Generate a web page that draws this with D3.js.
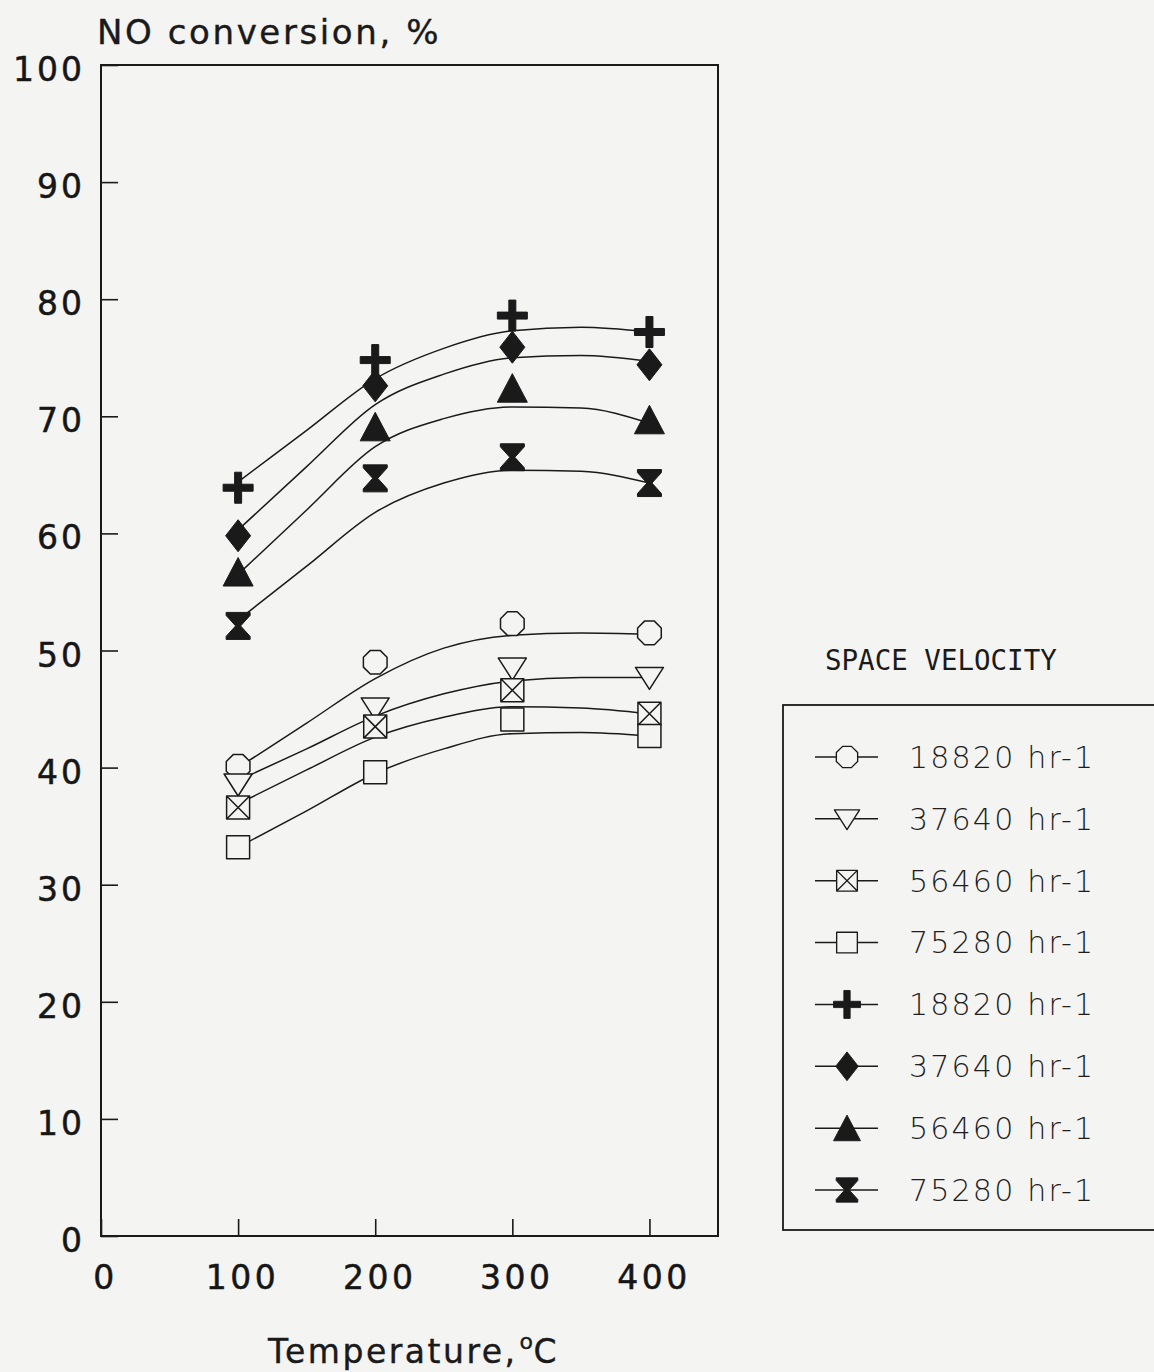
<!DOCTYPE html>
<html>
<head>
<meta charset="utf-8">
<script src="https://cdn.jsdelivr.net/npm/d3@7"></script>
<style>
  html, body { margin: 0; padding: 0; background: #f4f4f3; }
  svg { display: block; }
  .tick text { font-family: "DejaVu Sans", sans-serif; fill: #161616; stroke: #161616; stroke-width: 0.5px; }
</style>
</head>
<body>
<script>
// Measured temperatures (°C)
const temps = [100, 200, 300, 400];
// Temperatures at which the smoothed fit curves are sampled
const fitTemps = [100, 150, 200, 250, 300, 350, 400];

// Space velocity labels (hr-1)
const velocities = ["18820", "37640", "56460", "75280"];

// NO conversion (%) — open symbols
const openSV18820 = [40.1, 49.0, 52.3, 51.5];
const openSV37640 = [38.6, 45.1, 48.5, 47.7];
const openSV56460 = [36.6, 43.5, 46.6, 44.6];
const openSV75280 = [33.2, 39.6, 44.1, 42.7];
// NO conversion (%) — filled symbols
const filledSV18820 = [63.9, 74.8, 78.6, 77.2];
const filledSV37640 = [59.8, 72.6, 75.9, 74.4];
const filledSV56460 = [56.7, 69.1, 72.4, 69.7];
const filledSV75280 = [52.1, 64.7, 66.5, 64.3];

// Smoothed fit curves through each series
const fitOpen18820 = [40.0, 43.8, 47.6, 50.2, 51.3, 51.5, 51.4];
const fitOpen37640 = [38.9, 41.6, 44.4, 46.3, 47.4, 47.7, 47.7];
const fitOpen56460 = [36.9, 39.8, 42.6, 44.3, 45.2, 45.1, 44.6];
const fitOpen75280 = [33.2, 36.3, 39.5, 41.6, 42.9, 43.0, 42.7];
const fitFilled18820 = [64.4, 68.8, 73.2, 75.8, 77.3, 77.6, 77.2];
const fitFilled37640 = [60.3, 65.7, 71.0, 73.6, 75.0, 75.2, 74.7];
const fitFilled56460 = [56.5, 62.0, 67.4, 69.8, 70.8, 70.7, 69.4];
const fitFilled75280 = [52.6, 57.2, 61.8, 64.3, 65.4, 65.3, 64.3];

const xTicks = [0, 100, 200, 300, 400];
const yTicks = [0, 10, 20, 30, 40, 50, 60, 70, 80, 90, 100];

const ink = "#1a1a1a";
const paper = "#f4f4f3";

// Marker shapes, centred on (0,0)
const markers = {
  octagon: () => {
    const r = 12.8;
    const pts = d3.range(8).map(k => {
      const a = Math.PI / 8 + k * Math.PI / 4;
      return [r * Math.cos(a), r * Math.sin(a)];
    });
    return "M" + pts.map(p => p.join(",")).join("L") + "Z";
  },
  triDown: () => "M-14,-10L14,-10L0,12Z",
  boxX: () => "M-11.5,-11.5H11.5V11.5H-11.5ZM-11.5,-11.5L11.5,11.5M11.5,-11.5L-11.5,11.5",
  square: () => "M-11.5,-11.5H11.5V11.5H-11.5Z",
  cross: () => "M-3.5,-15.5H3.5V-3.5H15V3.5H3.5V15.5H-3.5V3.5H-15V-3.5H-3.5Z",
  diamond: () => "M0,-16L12.5,0L0,16L-12.5,0Z",
  triUp: () => "M0,-14.5L15,14L-15,14Z",
  hourglass: () => "M-12,-13.5H12V-10.5L2.5,0L12,10.5V13.5H-12V10.5L-2.5,0L-12,-10.5Z"
};

const series = [
  { sv: velocities[0], values: openSV18820, fit: fitOpen18820, shape: "octagon", filled: false },
  { sv: velocities[1], values: openSV37640, fit: fitOpen37640, shape: "triDown", filled: false },
  { sv: velocities[2], values: openSV56460, fit: fitOpen56460, shape: "boxX", filled: false },
  { sv: velocities[3], values: openSV75280, fit: fitOpen75280, shape: "square", filled: false },
  { sv: velocities[0], values: filledSV18820, fit: fitFilled18820, shape: "cross", filled: true },
  { sv: velocities[1], values: filledSV37640, fit: fitFilled37640, shape: "diamond", filled: true },
  { sv: velocities[2], values: filledSV56460, fit: fitFilled56460, shape: "triUp", filled: true },
  { sv: velocities[3], values: filledSV75280, fit: fitFilled75280, shape: "hourglass", filled: true }
];

const W = 1154, H = 1372;
const plot = { left: 101, right: 718, top: 65, bottom: 1236 };

const svg = d3.select("body").append("svg")
  .attr("width", W).attr("height", H);

svg.append("rect").attr("width", W).attr("height", H).attr("fill", paper);

const x = d3.scaleLinear().domain([0, 450]).range([plot.left, plot.right]);
const y = d3.scaleLinear().domain([0, 100]).range([plot.bottom, plot.top]);

// Y axis: inward ticks
const yAxis = svg.append("g")
  .attr("transform", `translate(${plot.left},0)`)
  .call(d3.axisLeft(y).tickValues(yTicks).tickSize(-17).tickPadding(16).tickFormat(d3.format("d")));
yAxis.select(".domain").remove();
yAxis.selectAll(".tick line").attr("stroke", ink).attr("stroke-width", 1.6);
yAxis.selectAll(".tick text")
  .attr("font-size", 33).attr("letter-spacing", 3).attr("dy", "0.47em");

// X axis: inward ticks
const xAxis = svg.append("g")
  .attr("transform", `translate(0,${plot.bottom})`)
  .call(d3.axisBottom(x).tickValues(xTicks).tickSize(-17).tickFormat(d3.format("d")));
xAxis.select(".domain").remove();
xAxis.selectAll(".tick line").attr("stroke", ink).attr("stroke-width", 1.6);
xAxis.selectAll(".tick text")
  .attr("font-size", 33).attr("letter-spacing", 3.5).attr("y", 53).attr("dy", 0)
  .attr("dx", 4);

// Plot frame
svg.append("rect")
  .attr("x", plot.left).attr("y", plot.top)
  .attr("width", plot.right - plot.left).attr("height", plot.bottom - plot.top)
  .attr("fill", "none").attr("stroke", ink).attr("stroke-width", 2);

// Axis titles
svg.append("text")
  .attr("x", 97).attr("y", 44)
  .attr("font-family", "DejaVu Sans, sans-serif").attr("font-size", 34)
  .attr("letter-spacing", 2.6).attr("fill", ink)
  .attr("stroke", ink).attr("stroke-width", 0.4)
  .text("NO conversion, %");

const xt = svg.append("text")
  .attr("x", 268).attr("y", 1363)
  .attr("font-family", "DejaVu Sans, sans-serif").attr("font-size", 33)
  .attr("letter-spacing", 2.5).attr("fill", ink)
  .attr("stroke", ink).attr("stroke-width", 0.4);
xt.append("tspan").text("Temperature,");
xt.append("tspan").attr("font-size", 22).attr("dy", -14).attr("dx", 2).text("o");
xt.append("tspan").attr("dy", 14).attr("dx", -2).text("C");

// Fit curves
const line = d3.line()
  .x((d, i) => x(fitTemps[i]))
  .y(d => y(d))
  .curve(d3.curveMonotoneX);

svg.append("g").selectAll("path")
  .data(series)
  .join("path")
  .attr("d", s => line(s.fit))
  .attr("fill", "none")
  .attr("stroke", ink)
  .attr("stroke-width", 1.5);

// Data markers
const drawMarker = (sel, s) => sel
  .attr("d", markers[s.shape]())
  .attr("fill", s.filled ? ink : paper)
  .attr("stroke", ink)
  .attr("stroke-width", s.filled ? 1 : 1.5)
  .attr("stroke-linejoin", "round");

series.forEach(s => {
  svg.append("g").selectAll("path")
    .data(s.values)
    .join("path")
    .attr("transform", (v, i) => `translate(${x(temps[i])},${y(v)})`)
    .each(function () { drawMarker(d3.select(this), s); });
});

// Legend
svg.append("text")
  .attr("x", 825).attr("y", 670)
  .attr("font-family", "DejaVu Sans Mono, monospace").attr("font-size", 27.5)
  .attr("fill", ink)
  .text("SPACE VELOCITY");

svg.append("rect")
  .attr("x", 783).attr("y", 705)
  .attr("width", 420).attr("height", 525)
  .attr("fill", "none").attr("stroke", ink).attr("stroke-width", 1.8);

const rowY = d3.scaleLinear().domain([0, series.length - 1]).range([757, 1190]);

const rows = svg.append("g").selectAll("g")
  .data(series)
  .join("g")
  .attr("transform", (s, i) => `translate(0,${rowY(i)})`);

rows.append("line")
  .attr("x1", 815).attr("x2", 878)
  .attr("stroke", ink).attr("stroke-width", 1.5);

rows.append("path")
  .attr("transform", "translate(847,0) scale(0.9)")
  .each(function (s) { drawMarker(d3.select(this), s); });

rows.append("text")
  .attr("x", 909).attr("dy", "0.36em")
  .attr("font-family", "DejaVu Sans, sans-serif").attr("font-weight", 200)
  .attr("font-size", 30).attr("letter-spacing", 2.2).attr("fill", "#1e1e1e")
  .text(s => `${s.sv} hr-1`);
</script>
</body>
</html>
